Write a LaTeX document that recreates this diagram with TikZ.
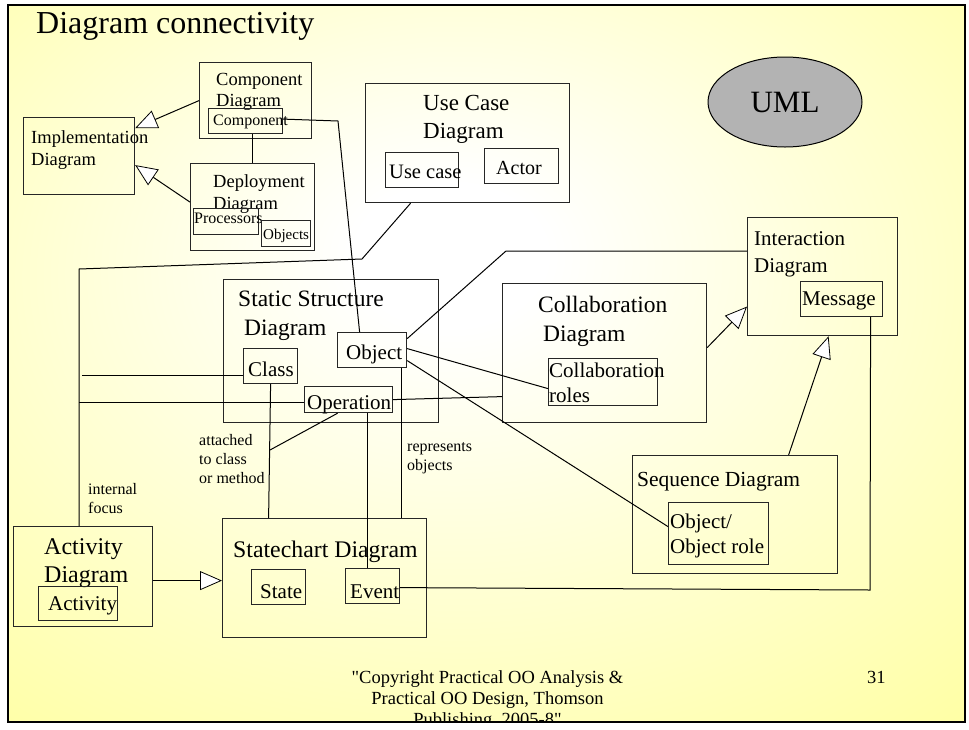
\documentclass[tikz,border=0pt]{standalone}
\usepackage{fontspec}
\setmainfont{Liberation Serif}[Ligatures=TeXOff]
\usetikzlibrary{positioning,calc,arrows.meta,shapes.geometric}
\definecolor{slideyel}{RGB}{255,255,153}
\definecolor{umlgray}{RGB}{179,179,179}
\pgfdeclareradialshading{slidebg}{\pgfpoint{-2bp}{8bp}}{color(0bp)=(white); color(5bp)=(white); color(44bp)=(slideyel); color(90bp)=(slideyel)}
\newcommand{\fsz}[2]{\fontsize{#1}{#2}\selectfont}

\begin{document}
\begin{tikzpicture}[x=1pt,y=-1pt,
	box/.style={draw=black!85,line width=1.2pt,inner sep=0pt,anchor=north west},
	txt/.style={inner sep=0pt,anchor=base west},
	ml/.style={inner sep=0pt,anchor=north west,align=left},
	link/.style={draw=black,line width=1pt},
	gen/.style={link,-{Triangle[fill=white,length=22pt,width=19pt,line width=0.8pt]}}]
		\useasboundingbox (0,0) rectangle (969,729);
		\fill[white] (0,0) rectangle (969,729);
		\shade[shading=slidebg] (8,5) rectangle (965,722);
		
		\node[txt,font=\fsz{32}{32}] (title) at (36,33) {Diagram connectivity};
		
		% implementation part
		\node[box,minimum width=112,minimum height=76] (compD) at (199,62) {};
		\node[ml,font=\fsz{18.5}{21}] (compT) at (216,73.4) {Component\\Diagram};
		\node[box,minimum width=74,minimum height=25] (compB) at (208,108) {};
		\node[txt,font=\fsz{16}{18}] (compBT) at (213,125) {Component};
		\node[box,minimum width=111,minimum height=77] (implD) at (23,117) {};
		\node[ml,font=\fsz{18.5}{22}] (implT) at (31,130.4) {Implementation\\Diagram};
		\node[box,minimum width=124,minimum height=87] (deplD) at (190,163) {};
		\node[ml,font=\fsz{18.5}{22}] (deplT) at (213,174.4) {Deployment\\Diagram};
		\node[box,minimum width=65,minimum height=26] (procB) at (193,208) {};
		\node[txt,font=\fsz{16}{18}] (procT) at (194,223) {Processors};
		\node[box,minimum width=49,minimum height=26] (objsB) at (261,220) {};
		\node[txt,font=\fsz{15}{17}] (objsT) at (263,239) {Objects};
		
		% use case
		\node[box,minimum width=204,minimum height=119] (useD) at (365,83) {};
		\node[ml,font=\fsz{23}{28}] (useT) at (423,95.4) {Use Case\\Diagram};
		\node[box,minimum width=73,minimum height=35] (useB) at (385,152) {};
		\node[txt,font=\fsz{20.5}{22}] (useBT) at (389,178) {Use case};
		\node[box,minimum width=74,minimum height=35] (actorB) at (484,148) {};
		\node[txt,font=\fsz{20}{22}] (actorT) at (496,174) {Actor};
		
		\node[ellipse,draw=black,line width=1pt,fill=umlgray,minimum width=154,minimum height=90,inner sep=0pt,font=\fsz{31}{31}] (uml) at (785,102) {UML};
		
		% interaction
		\node[box,minimum width=150,minimum height=118] (interD) at (747,217) {};
		\node[ml,font=\fsz{21}{27}] (interT) at (754,231.7) {Interaction\\Diagram};
		\node[box,minimum width=82,minimum height=35] (msgB) at (800,281) {};
		\node[txt,font=\fsz{21}{22}] (msgT) at (802,305) {Message};
		
		% static structure
		\node[box,minimum width=215,minimum height=143] (statD) at (223,279) {};
		\node[ml,font=\fsz{23.5}{29}] (statT) at (238,291) {Static Structure\\\hspace*{6pt}Diagram};
		\node[box,minimum width=54,minimum height=35] (classB) at (243,348) {};
		\node[txt,font=\fsz{21}{22}] (classT) at (248,376) {Class};
		\node[box,minimum width=69,minimum height=35] (objB) at (337,332) {};
		\node[txt,font=\fsz{21}{22}] (objT) at (346,359) {Object};
		\node[box,minimum width=88,minimum height=26] (operB) at (304,386) {};
		\node[txt,font=\fsz{21}{22}] (operT) at (307,409) {Operation};
		
		% collaboration
		\node[box,minimum width=204,minimum height=139] (collD) at (502,283) {};
		\node[ml,font=\fsz{23.5}{29}] (collT) at (538,296) {Collaboration\\\hspace*{5pt}Diagram};
		\node[box,minimum width=109,minimum height=47] (rolesB) at (548,358) {};
		\node[ml,font=\fsz{21}{25}] (rolesT) at (549,362.7) {Collaboration\\roles};
		
		% sequence
		\node[box,minimum width=205,minimum height=118] (seqD) at (632,455) {};
		\node[txt,font=\fsz{21.5}{22}] (seqT) at (637,486) {Sequence Diagram};
		\node[box,minimum width=100,minimum height=62] (orolB) at (668,502) {};
		\node[ml,font=\fsz{21}{25}] (orolT) at (670,513.7) {Object/\\Object role};
		
		% activity and statechart
		\node[box,minimum width=139,minimum height=100] (actD) at (13,526) {};
		\node[ml,font=\fsz{24}{28}] (actT) at (44,538.7) {Activity\\Diagram};
		\node[box,minimum width=79,minimum height=34] (activB) at (38,586) {};
		\node[txt,font=\fsz{21}{22}] (activT) at (48,610) {Activity};
		\node[box,minimum width=204,minimum height=119] (stchD) at (222,518) {};
		\node[txt,font=\fsz{23.8}{24}] (stchT) at (233,557) {Statechart Diagram};
		\node[box,minimum width=54,minimum height=35] (stateB) at (251,569) {};
		\node[txt,font=\fsz{21}{22}] (stateT) at (260,598) {State};
		\node[box,minimum width=54,minimum height=35] (eventB) at (345,568) {};
		\node[txt,font=\fsz{21}{22}] (eventT) at (350,598) {Event};
		
		% notes on the links
		\node[ml,font=\fsz{16}{19}] (attT) at (199,434) {attached\\to class\\or method};
		\node[ml,font=\fsz{16}{19}] (repT) at (407,442) {represents\\objects};
		\node[ml,font=\fsz{16}{19}] (intT) at (88,483) {internal\\focus};
		
		% free corners of the links
		\coordinate (bend1) at (338,121);
		\coordinate (ucJ) at (362,259);
		\coordinate (railT) at (79,269);
		\coordinate (railC) at (82,375);
		\coordinate (railO) at (79,402);
		\coordinate (attJ) at (270,450);
		\coordinate (bend2) at (506,251);
		\coordinate (msgJ) at (870,590);
		
		\draw[gen] (compD.west)--([yshift=28pt]implD.east);
		\draw[gen] ([yshift=5pt]deplD.west)--([yshift=-9pt]implD.east);
		\draw[link] (compB.south -| deplD.north)--(deplD.north);
		\draw[link] ([yshift=2pt]compB.east)--(bend1)--([xshift=-12.5pt]objB.north);
		\draw[link] ([xshift=-57pt]useD.south)--(ucJ)--(railT)--(railT |- actD.north);
		\draw[link] (railC)--(railC -| classB.west);
		\draw[link] (railO)--(railO -| operB.west);
		\draw[link] (operB.east)--([yshift=-43.5pt]collD.west);
		\draw[link] (classB.south)--([xshift=-56pt]stchD.north);
		\draw[link] ([xshift=19pt]operB.south)--([xshift=19pt]operB.south |- eventB.north);
		\draw[link] ([xshift=-11pt]operB.south)--(attJ);
		\draw[link] ([xshift=29.5pt]objB.south)--([xshift=29.5pt]objB.south |- stchD.north);
		\draw[link] ([yshift=11.5pt]objB.east)--(bend2)--(bend2 -| interD.west);
		\draw[link] ([yshift=1.5pt]objB.east)--([yshift=-6.5pt]rolesB.west);
		\draw[link] ([yshift=-10.5pt]objB.east)--([yshift=7pt]orolB.west);
		\draw[gen] ([yshift=5.5pt]collD.east)--([yshift=-30pt]interD.west);
		\draw[gen] ([xshift=53.5pt]seqD.north)--([xshift=6pt]interD.south);
		\draw[link] ([xshift=29pt]msgB.south)--(msgJ)--([yshift=-1.5pt]eventB.east);
		\draw[gen] ([yshift=-4pt]actD.east)--([yshift=-4pt]actD.east -| stchD.west);
		
		% footer
		\begin{scope}
			\clip (8,5) rectangle (965,722);
			\node[inner sep=0pt,anchor=north,align=center,font=\fsz{18.5}{21}] (copyT) at (487.5,670.4) {"Copyright Practical OO Analysis \&\\Practical OO Design, Thomson\\Publishing, 2005-8"};
		\end{scope}
		\node[txt,font=\fsz{18.5}{20}] (pageT) at (867,683) {31};
		\draw[line width=2.5pt] (8,5) rectangle (965,722);
	\end{tikzpicture}
\end{document}
